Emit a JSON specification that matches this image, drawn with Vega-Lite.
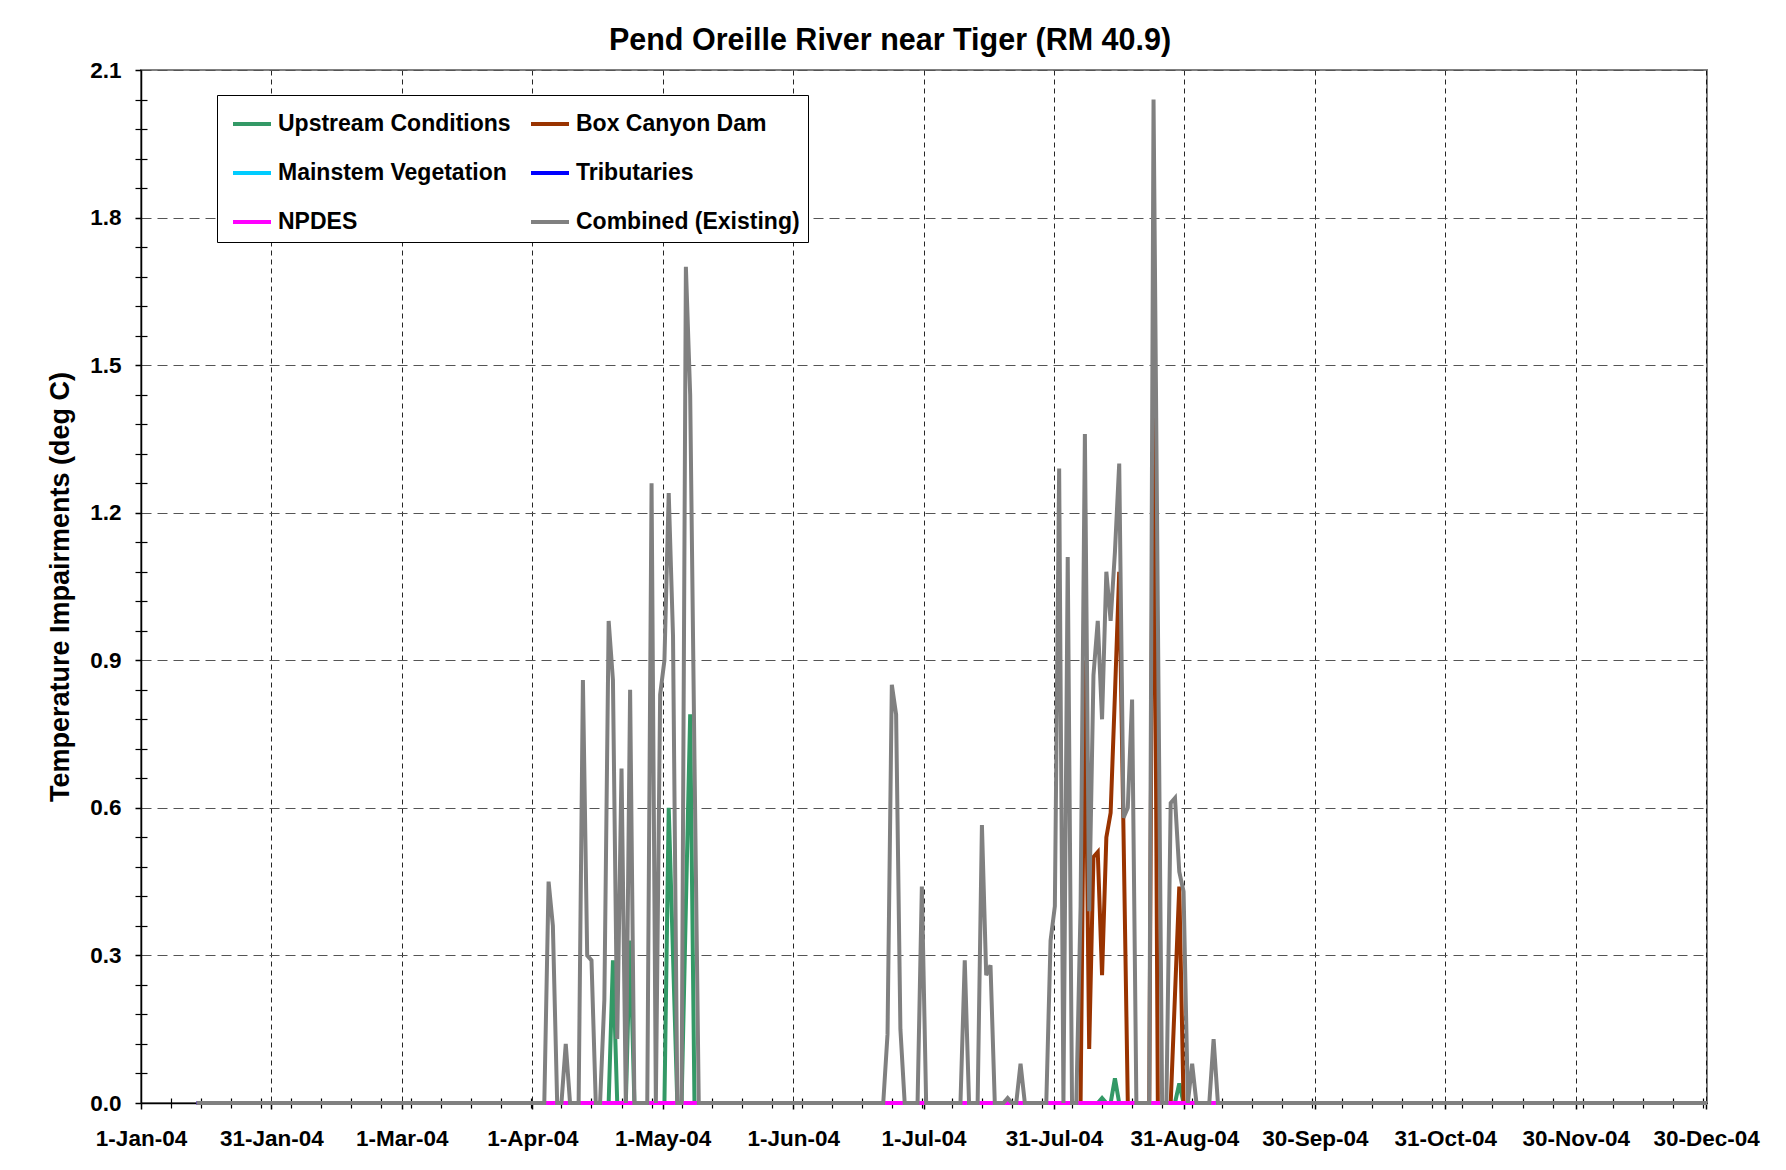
{
  "$schema": "https://vega.github.io/schema/vega-lite/v6.json",
  "autosize": "none",
  "width": 1566,
  "height": 1033,
  "padding": {"left": 141, "top": 70, "right": 79, "bottom": 67},
  "background": "white",
  "title": {"text": "Pend Oreille River near Tiger (RM 40.9)", "font": "Liberation Sans", "fontSize": 30.5, "fontWeight": "bold", "color": "black", "offset": 3, "dx": -34},
  "config": {"view": {"stroke": "#808080", "strokeWidth": 2}},
  "data": {"values": [
    {"date":"2004-01-14","up":0,"box":0,"veg":0,"trib":0,"npdes":0,"comb":0},
    {"date":"2004-04-03","up":0,"box":0,"veg":0,"trib":0,"npdes":0,"comb":0},
    {"date":"2004-04-04","up":0,"box":0,"veg":0,"trib":0,"npdes":0,"comb":0},
    {"date":"2004-04-05","up":0,"box":0,"veg":0,"trib":0,"npdes":0,"comb":0.45},
    {"date":"2004-04-06","up":0,"box":0,"veg":0,"trib":0,"npdes":0,"comb":0.36},
    {"date":"2004-04-07","up":0,"box":0,"veg":0,"trib":0,"npdes":0,"comb":0},
    {"date":"2004-04-08","up":0,"box":0,"veg":0,"trib":0,"npdes":0,"comb":0},
    {"date":"2004-04-09","up":0,"box":0,"veg":0,"trib":0,"npdes":0,"comb":0.12},
    {"date":"2004-04-10","up":0,"box":0,"veg":0,"trib":0,"npdes":0,"comb":0},
    {"date":"2004-04-12","up":0,"box":0,"veg":0,"trib":0,"npdes":0,"comb":0},
    {"date":"2004-04-13","up":0,"box":0,"veg":0,"trib":0,"npdes":0,"comb":0.86},
    {"date":"2004-04-14","up":0,"box":0,"veg":0,"trib":0,"npdes":0,"comb":0.30},
    {"date":"2004-04-15","up":0,"box":0,"veg":0,"trib":0,"npdes":0,"comb":0.29},
    {"date":"2004-04-16","up":0,"box":0,"veg":0,"trib":0,"npdes":0,"comb":0},
    {"date":"2004-04-17","up":0,"box":0,"veg":0,"trib":0,"npdes":0,"comb":0},
    {"date":"2004-04-18","up":0,"box":0,"veg":0,"trib":0,"npdes":0,"comb":0.21},
    {"date":"2004-04-19","up":0,"box":0,"veg":0,"trib":0,"npdes":0,"comb":0.98},
    {"date":"2004-04-20","up":0.29,"box":0,"veg":0,"trib":0,"npdes":0,"comb":0.86},
    {"date":"2004-04-21","up":0,"box":0,"veg":0,"trib":0,"npdes":0,"comb":0.13},
    {"date":"2004-04-22","up":0,"box":0,"veg":0,"trib":0,"npdes":0,"comb":0.68},
    {"date":"2004-04-23","up":0,"box":0,"veg":0,"trib":0,"npdes":0,"comb":0},
    {"date":"2004-04-24","up":0.33,"box":0,"veg":0,"trib":0,"npdes":0,"comb":0.84},
    {"date":"2004-04-25","up":0,"box":0,"veg":0,"trib":0,"npdes":0,"comb":0},
    {"date":"2004-04-28","up":0,"box":0,"veg":0,"trib":0,"npdes":0,"comb":0},
    {"date":"2004-04-29","up":0,"box":0,"veg":0,"trib":0,"npdes":0,"comb":1.26},
    {"date":"2004-04-30","up":0,"box":0,"veg":0,"trib":0,"npdes":0,"comb":0},
    {"date":"2004-05-01","up":0,"box":0,"veg":0,"trib":0,"npdes":0,"comb":0.83},
    {"date":"2004-05-02","up":0,"box":0,"veg":0,"trib":0,"npdes":0,"comb":0.90},
    {"date":"2004-05-03","up":0.60,"box":0,"veg":0,"trib":0,"npdes":0,"comb":1.24},
    {"date":"2004-05-04","up":0.30,"box":0,"veg":0,"trib":0,"npdes":0,"comb":0.95},
    {"date":"2004-05-05","up":0,"box":0,"veg":0,"trib":0,"npdes":0,"comb":0},
    {"date":"2004-05-06","up":0,"box":0,"veg":0,"trib":0,"npdes":0,"comb":0},
    {"date":"2004-05-07","up":0.40,"box":0,"veg":0,"trib":0,"npdes":0,"comb":1.70},
    {"date":"2004-05-08","up":0.79,"box":0,"veg":0,"trib":0,"npdes":0,"comb":1.44},
    {"date":"2004-05-09","up":0,"box":0,"veg":0,"trib":0,"npdes":0,"comb":0.70},
    {"date":"2004-05-10","up":0,"box":0,"veg":0,"trib":0,"npdes":0,"comb":0},
    {"date":"2004-06-22","up":0,"box":0,"veg":0,"trib":0,"npdes":0,"comb":0},
    {"date":"2004-06-23","up":0,"box":0,"veg":0,"trib":0,"npdes":0,"comb":0.14},
    {"date":"2004-06-24","up":0,"box":0,"veg":0,"trib":0,"npdes":0,"comb":0.85},
    {"date":"2004-06-25","up":0,"box":0,"veg":0,"trib":0,"npdes":0,"comb":0.79},
    {"date":"2004-06-26","up":0,"box":0,"veg":0,"trib":0,"npdes":0,"comb":0.15},
    {"date":"2004-06-27","up":0,"box":0,"veg":0,"trib":0,"npdes":0,"comb":0},
    {"date":"2004-06-30","up":0,"box":0,"veg":0,"trib":0,"npdes":0,"comb":0},
    {"date":"2004-07-01","up":0,"box":0,"veg":0,"trib":0,"npdes":0,"comb":0.44},
    {"date":"2004-07-02","up":0,"box":0,"veg":0,"trib":0,"npdes":0,"comb":0},
    {"date":"2004-07-10","up":0,"box":0,"veg":0,"trib":0,"npdes":0,"comb":0},
    {"date":"2004-07-11","up":0,"box":0,"veg":0,"trib":0,"npdes":0,"comb":0.29},
    {"date":"2004-07-12","up":0,"box":0,"veg":0,"trib":0,"npdes":0,"comb":0},
    {"date":"2004-07-14","up":0,"box":0,"veg":0,"trib":0,"npdes":0,"comb":0},
    {"date":"2004-07-15","up":0,"box":0,"veg":0,"trib":0,"npdes":0,"comb":0.565},
    {"date":"2004-07-16","up":0,"box":0,"veg":0,"trib":0,"npdes":0,"comb":0.26},
    {"date":"2004-07-17","up":0,"box":0,"veg":0,"trib":0,"npdes":0,"comb":0.28},
    {"date":"2004-07-18","up":0,"box":0,"veg":0,"trib":0,"npdes":0,"comb":0},
    {"date":"2004-07-20","up":0,"box":0,"veg":0,"trib":0,"npdes":0,"comb":0},
    {"date":"2004-07-21","up":0,"box":0,"veg":0,"trib":0,"npdes":0,"comb":0.01},
    {"date":"2004-07-22","up":0,"box":0,"veg":0,"trib":0,"npdes":0,"comb":0},
    {"date":"2004-07-23","up":0,"box":0,"veg":0,"trib":0,"npdes":0,"comb":0},
    {"date":"2004-07-24","up":0,"box":0,"veg":0,"trib":0,"npdes":0,"comb":0.08},
    {"date":"2004-07-25","up":0,"box":0,"veg":0,"trib":0,"npdes":0,"comb":0},
    {"date":"2004-07-30","up":0,"box":0,"veg":0,"trib":0,"npdes":0,"comb":0},
    {"date":"2004-07-31","up":0,"box":0,"veg":0,"trib":0,"npdes":0,"comb":0.33},
    {"date":"2004-08-01","up":0,"box":0,"veg":0,"trib":0,"npdes":0,"comb":0.40},
    {"date":"2004-08-02","up":0,"box":0,"veg":0,"trib":0,"npdes":0,"comb":1.29},
    {"date":"2004-08-03","up":0,"box":0,"veg":0,"trib":0,"npdes":0,"comb":0},
    {"date":"2004-08-04","up":0,"box":0,"veg":0,"trib":0,"npdes":0,"comb":1.11},
    {"date":"2004-08-05","up":0,"box":0,"veg":0,"trib":0,"npdes":0,"comb":0},
    {"date":"2004-08-06","up":0,"box":0,"veg":0,"trib":0,"npdes":0,"comb":0},
    {"date":"2004-08-07","up":0,"box":0,"veg":0,"trib":0,"npdes":0,"comb":0.40},
    {"date":"2004-08-08","up":0,"box":0.90,"veg":0,"trib":0,"npdes":0,"comb":1.36},
    {"date":"2004-08-09","up":0,"box":0.11,"veg":0,"trib":0,"npdes":0,"comb":0.39},
    {"date":"2004-08-10","up":0,"box":0.50,"veg":0,"trib":0,"npdes":0,"comb":0.87},
    {"date":"2004-08-11","up":0,"box":0.51,"veg":0,"trib":0,"npdes":0,"comb":0.98},
    {"date":"2004-08-12","up":0.01,"box":0.26,"veg":0,"trib":0,"npdes":0,"comb":0.78},
    {"date":"2004-08-13","up":0,"box":0.54,"veg":0,"trib":0,"npdes":0,"comb":1.08},
    {"date":"2004-08-14","up":0,"box":0.59,"veg":0,"trib":0,"npdes":0,"comb":0.98},
    {"date":"2004-08-15","up":0.05,"box":0.83,"veg":0,"trib":0,"npdes":0,"comb":1.12},
    {"date":"2004-08-16","up":0,"box":1.08,"veg":0,"trib":0,"npdes":0,"comb":1.30},
    {"date":"2004-08-17","up":0,"box":0.55,"veg":0,"trib":0,"npdes":0,"comb":0.58},
    {"date":"2004-08-18","up":0,"box":0,"veg":0,"trib":0,"npdes":0,"comb":0.60},
    {"date":"2004-08-19","up":0,"box":0,"veg":0,"trib":0,"npdes":0,"comb":0.82},
    {"date":"2004-08-20","up":0,"box":0,"veg":0,"trib":0,"npdes":0,"comb":0},
    {"date":"2004-08-23","up":0,"box":0,"veg":0,"trib":0,"npdes":0,"comb":0},
    {"date":"2004-08-24","up":0,"box":1.56,"veg":0,"trib":0,"npdes":0,"comb":2.04},
    {"date":"2004-08-25","up":0,"box":0,"veg":0,"trib":0,"npdes":0,"comb":1.0},
    {"date":"2004-08-26","up":0,"box":0,"veg":0,"trib":0,"npdes":0,"comb":0},
    {"date":"2004-08-27","up":0,"box":0,"veg":0,"trib":0,"npdes":0,"comb":0},
    {"date":"2004-08-28","up":0,"box":0,"veg":0,"trib":0,"npdes":0,"comb":0.61},
    {"date":"2004-08-29","up":0,"box":0.22,"veg":0,"trib":0,"npdes":0,"comb":0.62},
    {"date":"2004-08-30","up":0.04,"box":0.44,"veg":0,"trib":0,"npdes":0,"comb":0.47},
    {"date":"2004-08-31","up":0,"box":0,"veg":0,"trib":0,"npdes":0,"comb":0.43},
    {"date":"2004-09-01","up":0,"box":0,"veg":0,"trib":0,"npdes":0,"comb":0},
    {"date":"2004-09-02","up":0,"box":0,"veg":0,"trib":0,"npdes":0,"comb":0.08},
    {"date":"2004-09-03","up":0,"box":0,"veg":0,"trib":0,"npdes":0,"comb":0},
    {"date":"2004-09-06","up":0,"box":0,"veg":0,"trib":0,"npdes":0,"comb":0},
    {"date":"2004-09-07","up":0,"box":0,"veg":0,"trib":0,"npdes":0,"comb":0.13},
    {"date":"2004-09-08","up":0,"box":0,"veg":0,"trib":0,"npdes":0,"comb":0},
    {"date":"2004-12-31","up":0,"box":0,"veg":0,"trib":0,"npdes":0,"comb":0}
  ]},
  "transform": [{"fold": ["up","box","veg","trib","npdes","comb"], "as": ["series","value"]}],
  "layer": [
    {
      "transform": [{"filter": {"field": "series", "oneOf": ["up","box"]}}],
      "mark": {"type": "line", "strokeWidth": 4},
      "encoding": {
        "x": {"field": "date", "type": "temporal",
          "scale": {"type": "utc", "domain": [1072915200000, 1104451200000]},
          "axis": {"orient": "bottom", "title": null,
            "values": [1072915200000,1075541760000,1078168320000,1080794880000,1083421440000,1086048000000,1088674560000,1091301120000,1093927680000,1096554240000,1099180800000,1101807360000,1104433920000],
            "labelExpr": "utcFormat(datum.value, '%-d-%b-%y')",
            "grid": true, "gridDash": [5,4], "gridColor": "#000000", "gridWidth": 1, "gridOpacity": 0.85,
            "domainColor": "#000000", "domainWidth": 1.5,
            "tickColor": "#000000", "tickSize": 6, "tickWidth": 1.5,
            "labelFont": "Liberation Sans", "labelFontSize": 22.5, "labelFontWeight": "bold", "labelColor": "#000000",
            "labelPadding": 18, "labelOverlap": false, "labelFlush": false}},
        "y": {"field": "value", "type": "quantitative",
          "scale": {"domain": [0, 2.1], "nice": false, "zero": true},
          "axis": {"orient": "left", "values": [0,0.3,0.6,0.9,1.2,1.5,1.8,2.1], "format": ".1f",
            "title": "Temperature Impairments (deg C)",
            "titleFont": "Liberation Sans", "titleFontSize": 27, "titleFontWeight": "bold", "titleColor": "#000000", "titlePadding": 15,
            "grid": true, "gridDash": [10,6], "gridColor": "#555555", "gridWidth": 1,
            "domainColor": "#000000", "domainWidth": 1.5,
            "tickColor": "#000000", "tickSize": 6, "tickWidth": 1.5,
            "labelFont": "Liberation Sans", "labelFontSize": 22.5, "labelFontWeight": "bold", "labelColor": "#000000",
            "labelPadding": 14}},
        "color": {"field": "series", "type": "nominal",
          "scale": {"domain": ["up","box","veg","trib","npdes","comb"], "range": ["#339966","#993300","#00CCFF","#0000FF","#FF00FF","#808080"]},
          "legend": {"title": null, "orient": "none", "legendX": 76, "legendY": 25, "columns": 2, "direction": "horizontal",
            "labelExpr": "datum.label == 'up' ? 'Upstream Conditions' : datum.label == 'box' ? 'Box Canyon Dam' : datum.label == 'veg' ? 'Mainstem Vegetation' : datum.label == 'trib' ? 'Tributaries' : datum.label == 'npdes' ? 'NPDES' : 'Combined (Existing)'",
            "labelFont": "Liberation Sans", "labelFontSize": 23, "labelFontWeight": "bold", "labelColor": "#000000", "labelLimit": 400,
            "symbolType": "stroke", "symbolSize": 1444, "symbolStrokeWidth": 4, "symbolOffset": 6,
            "labelOffset": 5, "rowPadding": 16, "columnPadding": 12, "padding": 8,
            "strokeColor": "#000000", "fillColor": "#ffffff"}}
      }
    },
    {
      "transform": [{"filter": {"field": "series", "oneOf": ["veg","trib","npdes"]}}],
      "mark": {"type": "line", "strokeWidth": 4},
      "encoding": {
        "x": {"field": "date", "type": "temporal",
          "scale": {"type": "utc", "domain": [1072915200000, 1104451200000]},
          "axis": {"orient": "bottom", "title": null, "labels": false, "grid": false, "domain": false,
            "values": [1073520000000,1074124800000,1074729600000,1075334400000,1075939200000,1076544000000,1077148800000,1077753600000,1078358400000,1078963200000,1079568000000,1080172800000,1080777600000,1081382400000,1081987200000,1082592000000,1083196800000,1083801600000,1084406400000,1085011200000,1085616000000,1086220800000,1086825600000,1087430400000,1088035200000,1088640000000,1089244800000,1089849600000,1090454400000,1091059200000,1091664000000,1092268800000,1092873600000,1093478400000,1094083200000,1094688000000,1095292800000,1095897600000,1096502400000,1097107200000,1097712000000,1098316800000,1098921600000,1099526400000,1100131200000,1100736000000,1101340800000,1101945600000,1102550400000,1103155200000,1103760000000,1104364800000],
            "tickColor": "#000000", "tickSize": -5, "tickWidth": 1.2}},
        "y": {"field": "value", "type": "quantitative",
          "scale": {"domain": [0, 2.1], "nice": false, "zero": true},
          "axis": {"orient": "left", "title": null, "labels": false, "grid": false, "domain": false,
            "values": [0.06,0.12,0.18,0.24,0.36,0.42,0.48,0.54,0.66,0.72,0.78,0.84,0.96,1.02,1.08,1.14,1.26,1.32,1.38,1.44,1.56,1.62,1.68,1.74,1.86,1.92,1.98,2.04],
            "tickColor": "#000000", "tickSize": -6, "tickWidth": 1.2}},
        "color": {"field": "series", "type": "nominal"}
      }
    },
    {
      "transform": [{"filter": {"field": "series", "equal": "comb"}}],
      "mark": {"type": "line", "strokeWidth": 4},
      "encoding": {
        "x": {"field": "date", "type": "temporal",
          "scale": {"type": "utc", "domain": [1072915200000, 1104451200000]},
          "axis": {"orient": "bottom", "title": null, "labels": false, "grid": false, "domain": false,
            "values": [1073520000000,1074124800000,1074729600000,1075334400000,1075939200000,1076544000000,1077148800000,1077753600000,1078358400000,1078963200000,1079568000000,1080172800000,1080777600000,1081382400000,1081987200000,1082592000000,1083196800000,1083801600000,1084406400000,1085011200000,1085616000000,1086220800000,1086825600000,1087430400000,1088035200000,1088640000000,1089244800000,1089849600000,1090454400000,1091059200000,1091664000000,1092268800000,1092873600000,1093478400000,1094083200000,1094688000000,1095292800000,1095897600000,1096502400000,1097107200000,1097712000000,1098316800000,1098921600000,1099526400000,1100131200000,1100736000000,1101340800000,1101945600000,1102550400000,1103155200000,1103760000000,1104364800000],
            "tickColor": "#000000", "tickSize": 5, "tickWidth": 1.2}},
        "y": {"field": "value", "type": "quantitative",
          "scale": {"domain": [0, 2.1], "nice": false, "zero": true},
          "axis": {"orient": "left", "title": null, "labels": false, "grid": false, "domain": false,
            "values": [0.06,0.12,0.18,0.24,0.36,0.42,0.48,0.54,0.66,0.72,0.78,0.84,0.96,1.02,1.08,1.14,1.26,1.32,1.38,1.44,1.56,1.62,1.68,1.74,1.86,1.92,1.98,2.04],
            "tickColor": "#000000", "tickSize": 6, "tickWidth": 1.2}},
        "color": {"field": "series", "type": "nominal"}
      }
    }
  ],
  "resolve": {"axis": {"x": "independent", "y": "independent"}}
}
